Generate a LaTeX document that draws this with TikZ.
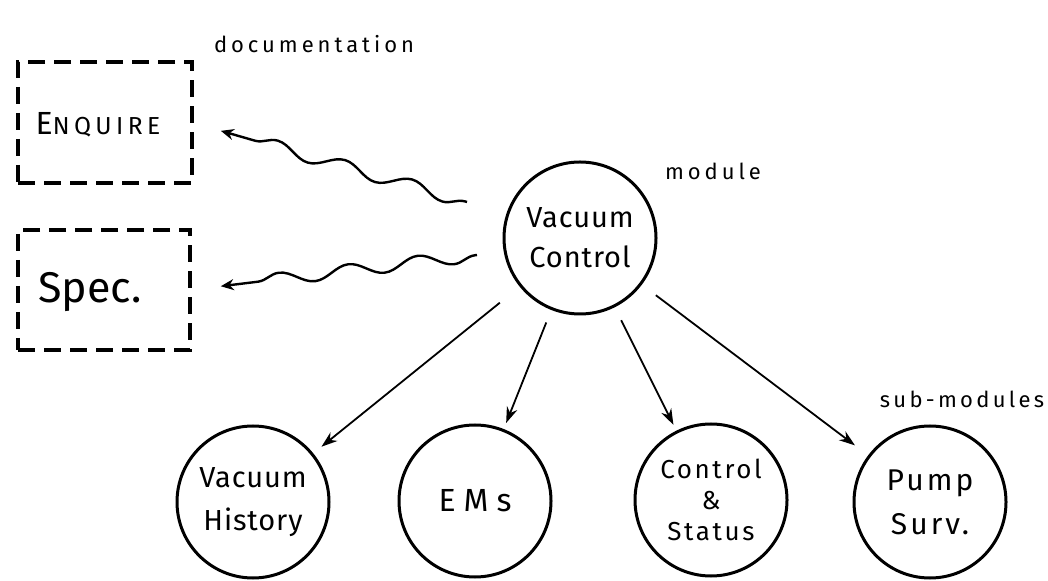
\documentclass[tikz,border=0pt]{standalone}
\usepackage{fontspec}
\newfontfamily\hand{Fira Sans}
\usetikzlibrary{arrows.meta,decorations.pathmorphing,calc}
\begin{document}
\begin{tikzpicture}[x=0.5pt,y=-0.5pt,
  module/.style={circle,draw,line width=1.5pt,minimum size=76pt,inner sep=0pt,outer sep=0pt,align=center},
  docbox/.style={draw,line width=1.8pt,dash pattern=on 8.5pt off 4.5pt,inner sep=0pt,outer sep=0pt},
  link/.style={line width=0.9pt,-{Stealth[length=8pt,width=5.5pt]}},
  wavy/.style={line width=1.2pt,-{Stealth[length=6.5pt,width=5.5pt]},decorate,
    decoration={snake,segment length=35pt,amplitude=3.2pt,post length=3pt,pre length=1pt}},
  lbl/.style={inner sep=0pt}
]
\useasboundingbox (0,0) rectangle (1048,581);

% documentation boxes
\node[docbox,minimum width=87pt,minimum height=60.5pt] (enq) at (105,122.5) {};
\node[lbl,anchor=base,font=\hand\fontsize{16}{18}\selectfont\addfontfeature{LetterSpace=18}] (enqt) at (98,135) {E{\fontsize{12.3}{14}\selectfont NQUIRE}};
\node[docbox,minimum width=86pt,minimum height=60pt] (spec) at (104,290) {};
\node[lbl,anchor=base,font=\hand\fontsize{21.5}{24}\selectfont] (spect) at (90,303) {Spec.};

% module
\node[module,font=\hand\fontsize{14.5}{20}\selectfont\addfontfeature{LetterSpace=3}] (vc) at (580,238) {Vacuum\\Control};

% sub-modules
\node[module,font=\hand\fontsize{14.5}{21.5}\selectfont\addfontfeature{LetterSpace=3}] (vh) at (253,502) {Vacuum\\History};
\node[module,font=\hand\fontsize{16}{18}\selectfont\addfontfeature{LetterSpace=25}] (ems) at (475,501) {EMs};
\node[module,font=\hand\fontsize{13}{15.5}\selectfont\addfontfeature{LetterSpace=10}] (cs) at (711,500) {Control\\\&\\Status};
\node[module,font=\hand\fontsize{15}{22}\selectfont\addfontfeature{LetterSpace=10}] (ps) at (930,502) {Pump\\Surv.};

% labels
\node[lbl,anchor=base,font=\hand\fontsize{11}{13}\selectfont\addfontfeature{LetterSpace=18}] (ldoc) at (314,53) {documentation};
\node[lbl,anchor=base,font=\hand\fontsize{11}{13}\selectfont\addfontfeature{LetterSpace=18}] (lmod) at (713,180) {module};
\node[lbl,anchor=base,font=\hand\fontsize{11}{13}\selectfont\addfontfeature{LetterSpace=15}] (lsub) at (962,408) {sub-modules};

% arrows to sub-modules
\draw[link,shorten <=13.5pt,shorten >=6pt] (vc) -- (vh);
\draw[link,shorten <=7.5pt,shorten >=4pt] (vc) -- (ems);
\draw[link,shorten <=8pt,shorten >=4pt] (vc) -- (cs);
\draw[link,shorten <=9.5pt,shorten >=9pt] (vc) -- (ps);

% wavy arrows to documentation
\coordinate (w1) at (467,202);
\coordinate (w2) at (477,255);
\draw[wavy] (w1) -- ($(enq.east)!15pt!(w1)$);
\draw[wavy] (w2) -- ($(spec.east)!15.5pt!(w2)$);
\end{tikzpicture}
\end{document}
